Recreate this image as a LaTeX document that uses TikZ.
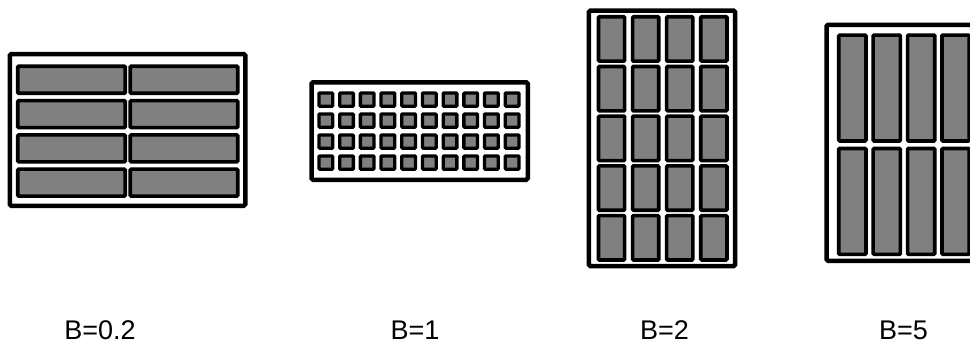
\documentclass[tikz,border=0pt]{standalone}
\usepackage{fontspec}
\setmainfont{Liberation Sans}
\usepackage{tikz}
\usetikzlibrary{positioning}
\definecolor{brickgrey}{HTML}{808080}

\begin{document}
\begin{tikzpicture}[x=1pt,y=-1pt,
      frame/.style={draw=black,line width=4.5pt,rounded corners=1.5pt},
      brick/.style={draw=black,fill=brickgrey,line width=3.6pt,rounded corners=1pt},
      cell/.style={draw=black,fill=brickgrey,line width=3.3pt,rounded corners=0.8pt},
      blab/.style={anchor=base,inner sep=0pt,text depth=0pt,font=\fontsize{27}{32}\selectfont}]
    \useasboundingbox (0,0) rectangle (970,343);
    \clip (0,0) rectangle (970,343);
    % B=0.2 : wide flat bricks
    \draw[frame] (9.75,54) rectangle (245.25,205.75);
    \foreach \i in {0,1} \foreach \j in {0,...,3}
      \draw[brick] ({17.75+112.5*\i},{66.25+34.3*\j}) rectangle ++(107.5,27);
    % B=1 : small squares
    \draw[frame] (311.5,82.25) rectangle (527.75,179.75);
    \foreach \i in {0,...,9} \foreach \j in {0,...,3}
      \draw[cell] ({318.95+20.7*\i},{92.95+21*\j}) rectangle ++(13.7,13.2);
    % B=2 : upright bricks
    \draw[frame] (588.95,10.55) rectangle (735.05,266.05);
    \foreach \i in {0,...,3} \foreach \j in {0,...,4}
      \draw[brick] ({598.45+34.1*\i},{16.75+49.7*\j}) rectangle ++(26.2,44.4);
    % B=5 : long bricks, cut at the right edge
    \draw[frame] (826.55,24.75) rectangle (981,260.75);
    \foreach \i in {0,...,3} \foreach \j in {0,1}
      \draw[brick] ({838.75+34.4*\i},{35.05+113.4*\j}) rectangle ++(27.2,105.9);
    % labels
    \node[blab] (lblA) at (100,339) {B=0.2};
    \node[blab] (lblB) at (415,339) {B=1};
    \node[blab] (lblC) at (664.5,339) {B=2};
    \node[blab] (lblD) at (903.5,339) {B=5};
\end{tikzpicture}
\end{document}
